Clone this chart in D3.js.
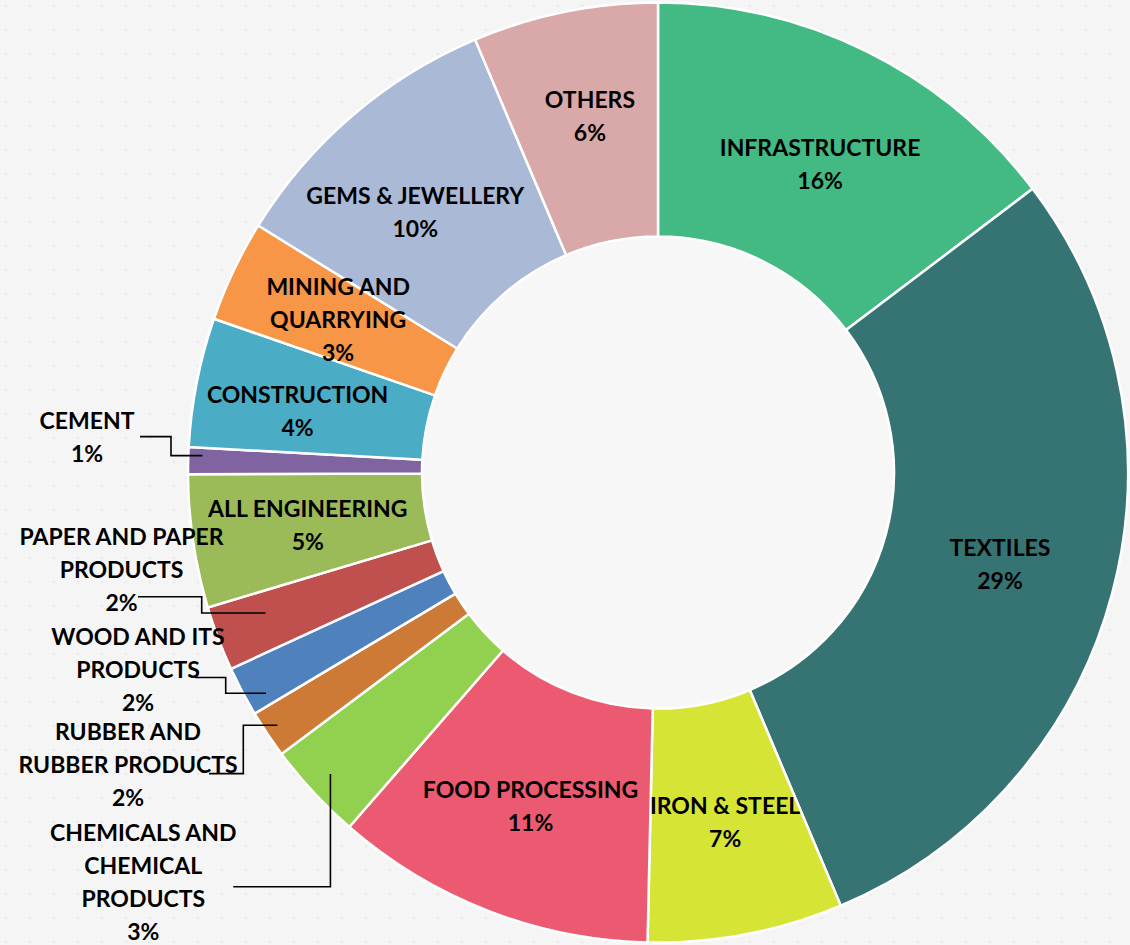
<!DOCTYPE html>
<html>
<head>
<meta charset="utf-8">
<script src="https://cdn.jsdelivr.net/npm/d3@7"></script>
<style>
  body { margin: 0; background: #f5f5f5; }
  svg { display: block; }
</style>
</head>
<body>
<div id="donut"></div>
<script>
// sectors, clockwise from 12 o'clock
var sectors = ["INFRASTRUCTURE", "TEXTILES", "IRON & STEEL", "FOOD PROCESSING",
  "CHEMICALS AND\nCHEMICAL\nPRODUCTS", "RUBBER AND\nRUBBER PRODUCTS", "WOOD AND ITS\nPRODUCTS",
  "PAPER AND PAPER\nPRODUCTS", "ALL ENGINEERING", "CEMENT", "CONSTRUCTION",
  "MINING AND\nQUARRYING", "GEMS & JEWELLERY", "OTHERS"];
// share of each slice (%)
var shares = [14.68, 28.96, 6.71, 11.05, 3.38, 1.64, 1.72, 2.22, 4.58, 0.92, 4.44, 3.50, 9.83, 6.36];
// percent text printed on the chart
var pctLabels = ["16%", "29%", "7%", "11%", "3%", "2%", "2%", "2%", "5%", "1%", "4%", "3%", "10%", "6%"];
var colors = ["#43b984", "#357473", "#d6e535", "#eb5a70", "#92d050", "#cd7a36", "#4f81bd",
  "#c0504d", "#9bbb59", "#8064a2", "#4bacc6", "#f79646", "#aab9d6", "#d9a9a9"];

var width = 1130;
var height = 945;
var cx = 658, cy = 472.6;
var outerR = 470, innerR = 236;
var lineH = 33;

var svg = d3.select("#donut")
    .append("svg")
    .attr("width", width)
    .attr("height", height);

// faint dotted backdrop
var defs = svg.append("defs");
var pat = defs.append("pattern")
    .attr("id", "dots")
    .attr("width", 24)
    .attr("height", 24)
    .attr("patternUnits", "userSpaceOnUse");
pat.append("circle").attr("cx", 6).attr("cy", 6).attr("r", 1.6).style("fill", "#e6e6ea");

svg.append("rect").attr("width", width).attr("height", height).style("fill", "#f5f5f5");
svg.append("rect").attr("width", width).attr("height", height).style("fill", "url(#dots)").style("opacity", 0.7);

var data = sectors.map(function(s, i) {
    return { name: s, value: shares[i], pct: pctLabels[i], color: colors[i], idx: i };
});

var pie = d3.pie()
    .sort(null)
    .value(d => d.value)
    .startAngle(0)
    .endAngle(2 * Math.PI);

var arcs = pie(data);

var arc = d3.arc()
    .innerRadius(innerR)
    .outerRadius(outerR);

var g = svg.append("g")
    .attr("transform", "translate(" + cx + "," + cy + ")");

// inner hole
g.append("circle").attr("r", innerR).style("fill", "#f7f7f7");

g.selectAll("path.slice")
    .data(arcs)
    .enter().append("path")
    .attr("class", "slice")
    .attr("d", arc)
    .style("fill", d => d.data.color)
    .style("stroke", "#ffffff")
    .style("stroke-width", 2.5)
    .style("stroke-linejoin", "round");

// label placement: inside labels sit on the centroid (with a small nudge),
// outside labels get an elbow leader line
var inside = {
    0: [5, 8], 1: [1, 1], 2: [1, 3], 3: [0, 5], 8: [-1, 1],
    10: [-14, 7], 11: [-1, -1], 12: [-13, 8], 13: [2, -10]
};
var outside = {
    9: { x: 87, y: 428.6, sx: 140, sy: 436.6, ex: 171, t: 0.7, k: 0.97 },
    7: { x: 121.5, y: 544.5, sx: 138, sy: 596.7, ex: 201.7, t: 0.625, k: 0.887 },
    6: { x: 138, y: 644.8, sx: 195, sy: 677.5, ex: 225.7, t: 0.24, k: 0.957 },
    5: { x: 128, y: 739.5, sx: 209, sy: 773.6, ex: 243.3, t: 0.54, k: 0.972 },
    4: { x: 143.3, y: 840.5, sx: 233.3, sy: 886.8, ex: null, t: 0.52, k: 0.947 }
};

function drawLines(sel, lines, x, firstBase) {
    var t = sel.append("text")
        .attr("text-anchor", "middle")
        .style("font-family", "Lato, 'Open Sans', sans-serif")
        .style("font-weight", "bold")
        .style("font-size", "23px")
        .style("fill", "#000");
    lines.forEach(function(l, j) {
        t.append("tspan").attr("x", x).attr("y", firstBase + j * lineH).text(l);
    });
}

var labels = svg.append("g");
var leaders = svg.append("g");

arcs.forEach(function(a) {
    var i = a.data.idx;
    var lines = a.data.name.split("\n").concat([a.data.pct]);
    if (outside[i]) {
        var o = outside[i];
        var ang = a.startAngle + o.t * (a.endAngle - a.startAngle);
        var px = cx + outerR * o.k * Math.sin(ang);
        var py = cy - outerR * o.k * Math.cos(ang);
        var p;
        if (o.ex === null) {
            p = "M" + o.sx + "," + o.sy + "H" + px + "V" + py;
        } else {
            p = "M" + o.sx + "," + o.sy + "H" + o.ex + "V" + py + "H" + px;
        }
        leaders.append("path")
            .attr("d", p)
            .style("fill", "none")
            .style("stroke", "#000")
            .style("stroke-width", 1.6);
        drawLines(labels, lines, o.x, o.y);
    } else {
        var c = arc.centroid(a);
        var nd = inside[i] || [0, 0];
        var x = cx + c[0] + nd[0];
        var midY = cy + c[1] + nd[1];
        var first = midY - (lines.length - 1) * lineH / 2 + 8;
        drawLines(labels, lines, x, first);
    }
});
</script>
</body>
</html>
